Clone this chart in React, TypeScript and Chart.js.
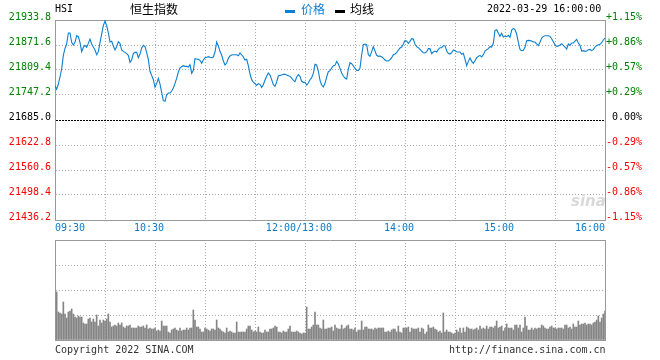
import React, { useEffect, useRef } from 'react';
import { Chart, registerables } from 'chart.js';

Chart.register(...registerables);

// ---------------- data ----------------
const PREV_CLOSE = 21685.0;
const priceTicks = [21436.2, 21498.4, 21560.6, 21622.8, 21685.0, 21747.2, 21809.4, 21871.6, 21933.8];
const priceTickLabels = ['21436.2', '21498.4', '21560.6', '21622.8', '21685.0', '21747.2', '21809.4', '21871.6', '21933.8'];
const pctTickLabels = ['-1.15%', '-0.86%', '-0.57%', '-0.29%', '0.00%', '+0.29%', '+0.57%', '+0.86%', '+1.15%'];
const gridMinutes = [0, 30, 60, 90, 120, 150, 180, 210, 240, 270, 300, 330];
const timeLabelMinutes = [0, 60, 150, 210, 270, 330];
const timeLabels = ['09:30', '10:30', '12:00/13:00', '14:00', '15:00', '16:00'];
const volumeTicks = [0, 25, 50, 75, 100];

// price per trading minute (0 = 09:30, 150 = 12:00/13:00, 330 = 16:00)
const prices = [
  21770.4, 21761.3, 21774.5, 21792.0, 21811.9, 21845.9, 21863.3, 21874.1, 21901.4, 21901.4,
  21878.2, 21871.6, 21878.2, 21894.8, 21892.3, 21878.2, 21855.0, 21865.8, 21870.7, 21865.8,
  21875.7, 21886.5, 21874.1, 21866.6, 21859.1, 21847.5, 21855.0, 21877.4, 21898.9, 21919.7,
  21931.3, 21919.7, 21902.3, 21879.0, 21880.7, 21869.1, 21859.1, 21867.4, 21879.9, 21875.7,
  21859.1, 21855.8, 21853.3, 21850.0, 21845.9, 21828.5, 21834.3, 21850.0, 21853.3, 21853.3,
  21840.1, 21849.2, 21864.1, 21870.7, 21867.4, 21852.5, 21835.9, 21806.1, 21796.1, 21785.3,
  21766.3, 21775.4, 21788.6, 21774.5, 21753.8, 21733.1, 21731.4, 21748.0, 21752.2, 21752.2,
  21757.1, 21764.6, 21776.2, 21788.6, 21804.4, 21814.4, 21817.7, 21820.2, 21818.5, 21818.5,
  21816.8, 21822.6, 21801.1, 21808.5, 21837.6, 21836.7, 21835.9, 21833.4, 21826.0, 21834.3,
  21840.1, 21840.9, 21842.5, 21840.9, 21840.1, 21841.7, 21854.2, 21879.0, 21869.1, 21855.8,
  21846.7, 21831.8, 21821.8, 21826.8, 21838.4, 21844.2, 21846.7, 21847.5, 21847.5, 21847.5,
  21845.0, 21851.7, 21846.7, 21841.7, 21834.3, 21835.9, 21820.2, 21799.4, 21785.3, 21779.5,
  21775.4, 21771.2, 21775.4, 21773.7, 21766.3, 21772.9, 21784.5, 21793.6, 21801.9, 21796.9,
  21785.3, 21772.9, 21768.7, 21779.5, 21794.5, 21796.1, 21796.9, 21798.6, 21798.6, 21796.9,
  21795.3, 21793.6, 21789.5, 21783.7, 21780.4, 21792.0, 21797.8, 21793.6, 21781.2, 21778.7,
  21778.7, 21772.1, 21777.0, 21785.3, 21790.3, 21801.1, 21823.5, 21821.8, 21806.9, 21783.7,
  21772.1, 21767.1, 21776.2, 21792.0, 21805.2, 21807.7, 21814.4, 21820.2, 21821.0, 21830.9,
  21824.3, 21813.5, 21801.9, 21794.5, 21789.5, 21787.0, 21811.9, 21827.6, 21825.1, 21819.3,
  21813.5, 21808.5, 21807.7, 21814.4, 21847.5, 21872.4, 21874.1, 21872.4, 21847.5, 21843.4,
  21855.0, 21867.4, 21856.6, 21845.9, 21843.4, 21844.2, 21842.5, 21839.2, 21834.3, 21831.8,
  21831.8, 21835.1, 21840.1, 21847.5, 21849.2, 21852.5, 21859.1, 21864.1, 21866.6, 21874.1,
  21882.4, 21881.5, 21875.7, 21880.7, 21887.3, 21886.5, 21873.2, 21867.4, 21864.9, 21860.8,
  21856.6, 21852.5, 21851.7, 21855.0, 21862.5, 21862.5, 21850.0, 21854.2, 21856.6, 21854.2,
  21860.8, 21864.9, 21864.9, 21869.9, 21869.9, 21856.6, 21850.8, 21849.2, 21852.5, 21859.1,
  21857.5, 21855.0, 21854.2, 21854.2, 21848.4, 21850.8, 21836.7, 21820.2, 21830.9, 21839.2,
  21830.9, 21826.0, 21832.6, 21840.1, 21843.4, 21845.9, 21841.7, 21847.5, 21856.6, 21860.0,
  21862.5, 21867.4, 21866.6, 21875.7, 21908.1, 21909.7, 21900.6, 21893.1, 21900.6, 21891.5,
  21894.0, 21892.3, 21895.6, 21890.6, 21908.9, 21913.0, 21909.7, 21898.9, 21878.2, 21860.8,
  21857.5, 21858.3, 21865.8, 21882.4, 21883.2, 21882.4, 21881.5, 21879.0, 21879.0, 21874.1,
  21869.9, 21878.2, 21889.0, 21893.1, 21894.8, 21894.8, 21894.8, 21893.1, 21887.3, 21879.9,
  21871.6, 21868.3, 21869.1, 21871.6, 21874.9, 21870.7, 21866.6, 21861.6, 21874.1, 21870.7,
  21876.6, 21876.6, 21881.5, 21885.7, 21876.6, 21870.7, 21856.6, 21857.5, 21855.8, 21856.6,
  21860.0, 21860.8, 21857.5, 21860.0, 21866.6, 21869.9, 21872.4, 21873.2, 21877.4, 21884.0,
  21889.0,
];

// volume per trading minute, minutes 1..330 (relative units, panel top = 100)
const volumes = [
  48, 28, 27, 26, 38, 26, 22, 28, 29, 31,
  26, 23, 22, 24, 23, 23, 17, 16, 16, 21,
  22, 18, 21, 18, 25, 14, 20, 17, 20, 19,
  21, 26, 18, 13, 14, 15, 14, 17, 15, 17,
  13, 12, 14, 14, 15, 12, 12, 12, 12, 14,
  13, 13, 14, 12, 15, 11, 12, 11, 11, 12,
  9, 10, 9, 19, 14, 14, 14, 8, 7, 10,
  11, 12, 10, 9, 12, 9, 10, 10, 12, 10,
  12, 12, 30, 20, 13, 13, 11, 8, 8, 12,
  11, 10, 9, 11, 11, 10, 20, 12, 11, 9,
  8, 7, 12, 8, 9, 8, 7, 7, 18, 8,
  8, 8, 8, 8, 11, 14, 14, 10, 8, 9,
  8, 13, 8, 7, 7, 10, 8, 8, 11, 11,
  12, 14, 13, 8, 8, 7, 9, 8, 8, 11,
  14, 8, 8, 8, 9, 8, 7, 6, 7, 7,
  33, 11, 11, 13, 15, 28, 15, 15, 12, 11,
  20, 11, 11, 12, 12, 13, 9, 15, 12, 11,
  11, 15, 11, 12, 14, 15, 11, 11, 10, 12,
  8, 10, 10, 19, 10, 13, 13, 11, 11, 11,
  10, 12, 11, 12, 12, 12, 12, 8, 8, 9,
  8, 10, 11, 11, 8, 14, 8, 7, 12, 12,
  12, 13, 8, 12, 11, 11, 11, 12, 8, 12,
  11, 6, 8, 15, 12, 12, 13, 11, 10, 8,
  9, 7, 27, 8, 10, 8, 8, 7, 6, 7,
  10, 8, 12, 7, 12, 8, 13, 12, 11, 11,
  10, 11, 12, 10, 14, 11, 12, 11, 14, 11,
  13, 13, 12, 14, 19, 12, 13, 14, 9, 12,
  16, 12, 12, 12, 10, 15, 15, 12, 15, 8,
  12, 23, 14, 10, 10, 12, 10, 12, 11, 12,
  12, 15, 14, 12, 11, 11, 13, 14, 12, 12,
  11, 12, 12, 12, 11, 15, 15, 12, 13, 11,
  16, 13, 13, 19, 15, 16, 16, 17, 15, 16,
  16, 15, 17, 18, 20, 24, 18, 22, 26, 29,
];

// ---------------- styles ----------------
const MONO = 'DejaVu Sans Mono';
const CJK = 'Noto Sans CJK SC';
const LINE_BLUE = '#0b7fd1';
const LABEL_BLUE = '#0d7ac6';
const GREEN = '#008000';
const RED = '#ff0000';
const GRID = '#aaaaaa';
const BORDER = '#999999';
const CLEAR = 'rgba(0,0,0,0)';

const labelColor = (i: number) => (i > 4 ? GREEN : i === 4 ? '#000000' : RED);

export default function App() {
  const priceRef = useRef<HTMLCanvasElement | null>(null);
  const volRef = useRef<HTMLCanvasElement | null>(null);

  useEffect(() => {
    const font = { family: MONO, size: 10 };
    const xGridColor = (ctx: any) => {
      const v = ctx.tick ? ctx.tick.value : -1;
      return v === 0 || v === 330 ? CLEAR : GRID;
    };

    const priceChart = new Chart(priceRef.current as HTMLCanvasElement, {
      type: 'line',
      data: {
        datasets: [
          {
            label: '价格',
            data: prices.map((p, i) => ({ x: i, y: p })),
            borderColor: LINE_BLUE,
            borderWidth: 1.1,
            pointRadius: 0,
            tension: 0,
            fill: false,
          },
        ],
      },
      options: {
        animation: false,
        responsive: false,
        devicePixelRatio: 1,
        layout: { padding: { top: 20, right: 18, left: 0, bottom: 0 } },
        plugins: { legend: { display: false }, tooltip: { enabled: false } },
        events: [],
        scales: {
          x: {
            type: 'linear',
            position: 'bottom',
            min: 0,
            max: 330,
            afterBuildTicks: (s: any) => {
              s.ticks = gridMinutes.map((v) => ({ value: v }));
            },
            afterFit: (s: any) => {
              s.height = 16;
            },
            ticks: {
              autoSkip: false,
              maxRotation: 0,
              minRotation: 0,
              align: 'inner',
              padding: 2,
              color: LABEL_BLUE,
              font,
              callback: (v: any) => {
                const k = timeLabelMinutes.indexOf(Number(v));
                if (k < 0) return '';
                const lab = timeLabels[k];
                return k === 0 || k === timeLabels.length - 1 ? lab : lab + '  ';
              },
            },
            grid: { color: xGridColor, lineWidth: 1, drawTicks: false },
            border: { display: true, color: BORDER, width: 1, dash: [1, 2] },
          },
          xTop: {
            type: 'linear',
            position: 'top',
            min: 0,
            max: 330,
            afterFit: (s: any) => {
              s.height = 0;
            },
            ticks: { display: false },
            grid: { display: false, drawTicks: false },
            border: { display: true, color: BORDER, width: 1 },
          },
          y: {
            type: 'linear',
            position: 'left',
            min: priceTicks[0],
            max: priceTicks[priceTicks.length - 1],
            afterBuildTicks: (s: any) => {
              s.ticks = priceTicks.map((v) => ({ value: v }));
            },
            afterFit: (s: any) => {
              s.width = 55;
            },
            ticks: {
              autoSkip: false,
              padding: 4,
              labelOffset: -3,
              font,
              color: (ctx: any) => labelColor(ctx.index),
              callback: (_v: any, i: number) => priceTickLabels[i],
            },
            grid: {
              lineWidth: 1,
              drawTicks: false,
              color: (ctx: any) => {
                const i = ctx.index;
                if (i === 0 || i === priceTicks.length - 1) return CLEAR;
                return Math.abs(priceTicks[i] - PREV_CLOSE) < 0.01 ? '#000000' : GRID;
              },
            },
            border: {
              display: true,
              color: BORDER,
              width: 1,
              dash: (ctx: any) =>
                ctx.index !== undefined && Math.abs(priceTicks[ctx.index] - PREV_CLOSE) < 0.01 ? [2, 1] : [1, 2],
            },
          },
          y1: {
            type: 'linear',
            position: 'right',
            min: priceTicks[0],
            max: priceTicks[priceTicks.length - 1],
            afterBuildTicks: (s: any) => {
              s.ticks = priceTicks.map((v) => ({ value: v }));
            },
            afterFit: (s: any) => {
              s.width = 37;
            },
            ticks: {
              autoSkip: false,
              padding: 2,
              crossAlign: 'far',
              labelOffset: -3,
              font,
              color: (ctx: any) => labelColor(ctx.index),
              callback: (_v: any, i: number) => pctTickLabels[i],
            },
            grid: { display: false, drawTicks: false },
            border: { display: true, color: BORDER, width: 1 },
          },
        },
      } as any,
    });

    const volChart = new Chart(volRef.current as HTMLCanvasElement, {
      type: 'bar',
      data: {
        datasets: [
          {
            label: '成交量',
            data: volumes.map((v, i) => ({ x: i + 1, y: v })),
            backgroundColor: '#858585',
            borderWidth: 0,
            barThickness: 1,
          },
        ],
      },
      options: {
        animation: false,
        responsive: false,
        devicePixelRatio: 1,
        layout: { padding: { top: 4, right: 0, left: 0, bottom: 0 } },
        plugins: { legend: { display: false }, tooltip: { enabled: false } },
        events: [],
        scales: {
          x: {
            type: 'linear',
            position: 'bottom',
            offset: false,
            min: 0,
            max: 330,
            afterBuildTicks: (s: any) => {
              s.ticks = gridMinutes.map((v) => ({ value: v }));
            },
            afterFit: (s: any) => {
              s.height = 20;
            },
            ticks: { display: false },
            grid: { color: xGridColor, lineWidth: 1, drawTicks: false, offset: false },
            border: { display: true, color: BORDER, width: 1, dash: [1, 2] },
          },
          xTop: {
            type: 'linear',
            position: 'top',
            min: 0,
            max: 330,
            afterFit: (s: any) => {
              s.height = 0;
            },
            ticks: { display: false },
            grid: { display: false, drawTicks: false },
            border: { display: true, color: BORDER, width: 1 },
          },
          y: {
            type: 'linear',
            position: 'left',
            min: 0,
            max: 100,
            afterBuildTicks: (s: any) => {
              s.ticks = volumeTicks.map((v) => ({ value: v }));
            },
            afterFit: (s: any) => {
              s.width = 55;
            },
            ticks: { display: false },
            grid: {
              lineWidth: 1,
              drawTicks: false,
              color: (ctx: any) => (ctx.index === 0 || ctx.index === volumeTicks.length - 1 ? CLEAR : GRID),
            },
            border: { display: true, color: BORDER, width: 1, dash: [1, 2] },
          },
          y1: {
            type: 'linear',
            position: 'right',
            min: 0,
            max: 100,
            afterFit: (s: any) => {
              s.width = 55;
            },
            ticks: { display: false },
            grid: { display: false, drawTicks: false },
            border: { display: true, color: BORDER, width: 1 },
          },
        },
      } as any,
    });

    return () => {
      priceChart.destroy();
      volChart.destroy();
    };
  }, []);

  const mono: React.CSSProperties = {
    position: 'absolute',
    fontFamily: MONO,
    fontSize: 10,
    lineHeight: '12px',
    whiteSpace: 'pre',
    color: '#000',
  };
  const cjk: React.CSSProperties = {
    position: 'absolute',
    fontFamily: CJK,
    fontSize: 12,
    lineHeight: '14px',
    whiteSpace: 'pre',
    color: '#000',
  };

  return (
    <div
      style={{
        position: 'absolute',
        left: 0,
        top: 0,
        width: 660,
        height: 360,
        background: '#fff',
        overflow: 'hidden',
      }}
    >
      <canvas ref={priceRef} width={660} height={236} style={{ position: 'absolute', left: 0, top: 0 }} />
      <canvas ref={volRef} width={660} height={124} style={{ position: 'absolute', left: 0, top: 236 }} />

      <span style={{ ...mono, left: 55, top: 3 }}>HSI</span>
      <span style={{ ...cjk, left: 130, top: 2 }}>恒生指数</span>

      <span style={{ position: 'absolute', left: 285, top: 10, width: 10, height: 3, background: LINE_BLUE }} />
      <span style={{ ...cjk, left: 301, top: 2, color: LINE_BLUE }}>价格</span>
      <span style={{ position: 'absolute', left: 335, top: 10, width: 10, height: 3, background: '#000' }} />
      <span style={{ ...cjk, left: 350, top: 2 }}>均线</span>

      <span style={{ ...mono, left: 487, top: 3 }}>2022-03-29 16:00:00</span>

      <span
        style={{
          position: 'absolute',
          left: 571,
          top: 192,
          fontFamily: 'DejaVu Sans',
          fontSize: 15,
          fontWeight: 'bold',
          fontStyle: 'italic',
          lineHeight: '18px',
          color: '#d9d9d9',
        }}
      >
        sina
      </span>

      <span style={{ ...mono, left: 55, top: 344, color: '#333' }}>Copyright 2022 SINA.COM</span>
      <span style={{ ...mono, left: 449, top: 344, color: '#333' }}>http://finance.sina.com.cn</span>
    </div>
  );
}
